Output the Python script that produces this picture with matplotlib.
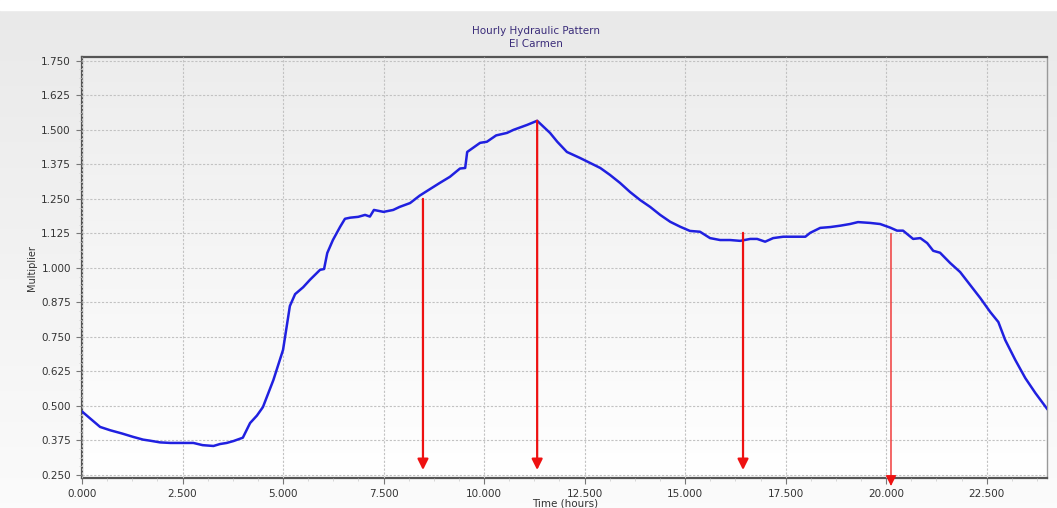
import numpy as np
import matplotlib
matplotlib.use("Agg")
import matplotlib.pyplot as plt
from matplotlib.colors import LinearSegmentedColormap
from matplotlib.ticker import MultipleLocator, FormatStrFormatter

# pattern
hours = [0.0, 0.2, 0.45, 0.7, 1.0, 1.27, 1.52, 1.7, 1.94, 2.2, 2.5, 2.77, 3.0, 3.27,
         3.43, 3.6, 3.77, 4.0, 4.18, 4.35, 4.5, 4.76, 5.0, 5.17, 5.3, 5.5, 5.67,
         5.92, 6.02, 6.1, 6.24, 6.42, 6.54, 6.67, 6.87, 7.04, 7.16, 7.26, 7.5, 7.74,
         7.9, 8.16, 8.4, 8.66, 8.9, 9.15, 9.4, 9.53, 9.58, 9.9, 10.07, 10.3, 10.57,
         10.73, 11.07, 11.32, 11.64, 11.82, 12.06, 12.39, 12.64, 12.89, 13.13, 13.38,
         13.63, 13.88, 14.13, 14.38, 14.63, 14.88, 15.12, 15.37, 15.62, 15.87,
         16.12, 16.37, 16.62, 16.79, 16.99, 17.19, 17.44, 17.69, 17.99, 18.11,
         18.36, 18.61, 18.86, 19.1, 19.3, 19.6, 19.85, 20.1, 20.27, 20.42, 20.67,
         20.85, 21.02, 21.17, 21.34, 21.59, 21.84, 22.09, 22.34, 22.59, 22.79,
         22.96, 23.21, 23.46, 23.71, 24.0]
multiplier = [0.480, 0.455, 0.424, 0.412, 0.400, 0.388, 0.378, 0.374, 0.368, 0.366,
              0.366, 0.366, 0.358, 0.355, 0.362, 0.366, 0.373, 0.385, 0.438, 0.465,
              0.496, 0.594, 0.703, 0.862, 0.905, 0.930, 0.957, 0.993, 0.996, 1.054,
              1.101, 1.149, 1.178, 1.182, 1.185, 1.192, 1.186, 1.210, 1.203, 1.210,
              1.221, 1.235, 1.262, 1.286, 1.308, 1.330, 1.360, 1.362, 1.420, 1.453,
              1.457, 1.480, 1.489, 1.500, 1.518, 1.533, 1.489, 1.457, 1.420, 1.398,
              1.380, 1.362, 1.337, 1.308, 1.275, 1.246, 1.221, 1.192, 1.167, 1.149,
              1.134, 1.131, 1.108, 1.101, 1.101, 1.098, 1.105, 1.105, 1.095, 1.108,
              1.113, 1.113, 1.113, 1.127, 1.145, 1.148, 1.153, 1.159, 1.166, 1.163,
              1.159, 1.146, 1.135, 1.135, 1.105, 1.108, 1.090, 1.062, 1.055, 1.018,
              0.985, 0.938, 0.891, 0.840, 0.804, 0.739, 0.667, 0.601, 0.547, 0.490]

# red arrows
arrow_x = [8.48, 11.32, 16.44, 20.12]
arrow_top = [1.250, 1.533, 1.127, 1.125]
arrow_bottom = [0.268, 0.268, 0.268, 0.210]
arrow_lw = [1.6, 1.6, 1.6, 0.9]

fig = plt.figure(figsize=(10.57, 5.08), dpi=100)

# figure background gradient
bg = fig.add_axes([0, 0, 1, 1], zorder=-2)
bg_cmap = LinearSegmentedColormap.from_list("bg", ["#e9e9e9", "#fbfbfb"])
bg.imshow(np.linspace(0, 1, 100).reshape(-1, 1), aspect="auto", cmap=bg_cmap,
          extent=[0, 1, 0, 1], origin="upper")
bg.add_patch(plt.Rectangle((0, 1 - 10 / 508), 1, 10 / 508, color="white"))
bg.set_xlim(0, 1)
bg.set_ylim(0, 1)
bg.axis("off")

ax = fig.add_axes([82 / 1057, 1 - 478 / 508, 965 / 1057, 421 / 508])
ax.set_facecolor("none")
ylo, yhi = 0.239, 1.764
plot_cmap = LinearSegmentedColormap.from_list("pl", ["#ededed", "#ffffff"])
ax.imshow(np.linspace(0, 1, 100).reshape(-1, 1), aspect="auto", cmap=plot_cmap,
          extent=[0, 24, ylo, yhi], origin="upper", zorder=0)

ax.plot(hours, multiplier, color="#2020e0", lw=1.8, zorder=3)

for x, t, b, lw in zip(arrow_x, arrow_top, arrow_bottom, arrow_lw):
    ax.annotate("", xy=(x, b), xytext=(x, t), annotation_clip=False, zorder=4,
                arrowprops=dict(arrowstyle="-|>", color="#ee1111", lw=lw,
                                mutation_scale=16, shrinkA=0, shrinkB=0))

ax.set_xlim(0, 24)
ax.set_ylim(ylo, yhi)
ax.xaxis.set_major_locator(MultipleLocator(2.5))
ax.xaxis.set_minor_locator(MultipleLocator(0.625))
ax.yaxis.set_major_locator(MultipleLocator(0.125))
ax.yaxis.set_minor_locator(MultipleLocator(0.03125))
ax.xaxis.set_major_formatter(FormatStrFormatter("%.3f"))
ax.yaxis.set_major_formatter(FormatStrFormatter("%.3f"))
ax.set_yticks(np.arange(0.25, 1.751, 0.125))

ax.grid(True, which="major", color="#c2c2c2", linestyle=(0, (2, 1.5)), lw=0.8, zorder=1)
ax.set_axisbelow(False)
ax.tick_params(which="major", length=4, width=0.8, color="#777777", labelsize=7.5,
               labelcolor="#333333", pad=4)
ax.tick_params(which="minor", length=2, width=0.5, color="#c8c8c8")

for side in ["left", "bottom", "top"]:
    ax.spines[side].set_color("#555555")
    ax.spines[side].set_linewidth(1.6)
ax.spines["right"].set_color("#999999")
ax.spines["right"].set_linewidth(1.0)

fig.text(536 / 1057, 1 - 31 / 508, "Hourly Hydraulic Pattern", ha="center", va="center",
         fontsize=7.5, color="#3b2d7a")
fig.text(536 / 1057, 1 - 44 / 508, "El Carmen", ha="center", va="center",
         fontsize=7.5, color="#3b2d7a")
fig.text(565 / 1057, 1 - 503 / 508, "Time (hours)", ha="center", va="center",
         fontsize=7.5, color="#333333")
fig.text(32 / 1057, 1 - 268 / 508, "Multiplier", ha="center", va="center",
         rotation=90, fontsize=7, color="#333333")

fig.savefig("out.png", dpi=100)
